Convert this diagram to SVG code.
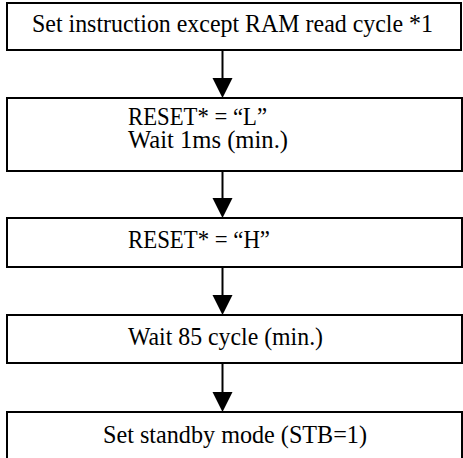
<svg xmlns="http://www.w3.org/2000/svg" width="463" height="458" viewBox="0 0 463 458">
<defs>
<style>
.box{fill:#fff;stroke:#000;stroke-width:2}
.t{font-family:"Liberation Serif","Times New Roman",serif;font-size:25px;fill:#000}
.c{stroke:#000;stroke-width:2;fill:none}
.ah{fill:#000}
</style>
</defs>
<rect width="463" height="458" fill="#fff"/>
<g id="connectors">
<line class="c" x1="222.5" y1="51" x2="222.5" y2="80"/>
<polygon class="ah" points="212.5,78 232.5,78 222.5,98"/>
<line class="c" x1="222.5" y1="171" x2="222.5" y2="200"/>
<polygon class="ah" points="212.5,198 232.5,198 222.5,218"/>
<line class="c" x1="222.5" y1="267" x2="222.5" y2="297"/>
<polygon class="ah" points="212.5,295 232.5,295 222.5,315"/>
<line class="c" x1="222.5" y1="363" x2="222.5" y2="394"/>
<polygon class="ah" points="212.5,392 232.5,392 222.5,412"/>
</g>
<g id="n1">
<rect class="box" x="7" y="3" width="454" height="47"/>
<text class="t" x="32" y="32" textLength="401" lengthAdjust="spacingAndGlyphs" style="font-size:26px">Set instruction except RAM read cycle *1</text>
</g>
<g id="n2">
<rect class="box" x="7" y="98" width="455" height="73"/>
<text class="t" x="128" y="125" textLength="139" lengthAdjust="spacingAndGlyphs">RESET* = “L”</text>
<text class="t" x="128" y="148" textLength="160" lengthAdjust="spacingAndGlyphs">Wait 1ms (min.)</text>
</g>
<g id="n3">
<rect class="box" x="7" y="218" width="455" height="49"/>
<text class="t" x="128" y="248" textLength="142" lengthAdjust="spacingAndGlyphs">RESET* = “H”</text>
</g>
<g id="n4">
<rect class="box" x="7" y="315" width="455" height="48"/>
<text class="t" x="128" y="345" textLength="195" lengthAdjust="spacingAndGlyphs">Wait 85 cycle (min.)</text>
</g>
<g id="n5">
<rect class="box" x="7" y="412" width="455" height="50"/>
<text class="t" x="103" y="443" textLength="264" lengthAdjust="spacingAndGlyphs">Set standby mode (STB=1)</text>
</g>
</svg>
